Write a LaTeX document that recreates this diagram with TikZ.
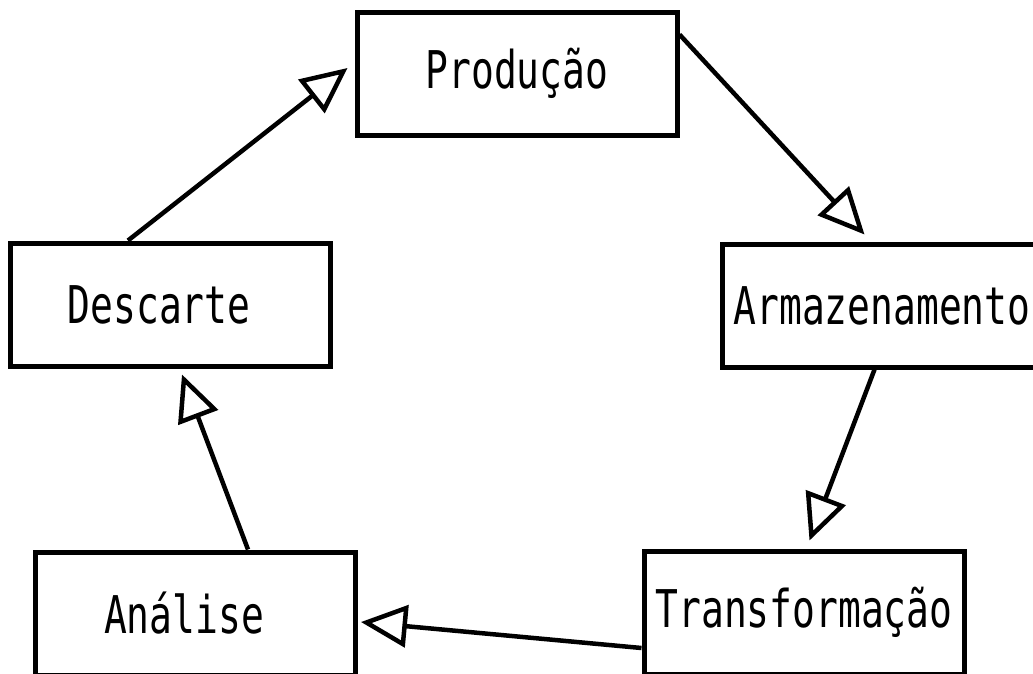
\documentclass[tikz,border=0pt]{standalone}
\usepackage{fontspec}
\newfontfamily\boxfont{DejaVu Sans Mono}[FakeStretch=0.73]
\usetikzlibrary{arrows.meta}
\begin{document}
\begin{tikzpicture}[x=1pt,y=-1pt,
  etapa/.style={draw,line width=5pt,minimum width=320pt,minimum height=123pt,inner sep=0pt,
    font=\boxfont\fontsize{52}{58}\selectfont},
  seta/.style={line width=4.5pt,-{Triangle[open,length=46pt,width=42pt]}}]
 \useasboundingbox (0,0) rectangle (1033,673);
 \node[etapa] (prod) at (517,73.5) {Produção};
 \node[etapa] (arm) at (882,305.5) {Armazenamento};
 \node[etapa] (trans) at (804,612.5) {Transformação};
 \node[etapa] (ana) at (195.5,613.5) {Análise\hphantom{x}};
 \node[etapa] (desc) at (170.5,304.5) {Descarte\hphantom{x}};
 \draw[seta] ([yshift=-25pt]prod.north east) -- ([xshift=145pt,yshift=7pt]arm.north west);
 \draw[seta] ([xshift=155pt]arm.south west) -- ([xshift=168pt,yshift=8pt]trans.north west);
 \draw[seta] ([yshift=-35.5pt]trans.west) -- ([xshift=3pt,yshift=-8.5pt]ana.east);
 \draw[seta] ([xshift=52.5pt]ana.north) -- ([xshift=11.5pt,yshift=-6pt]desc.south);
 \draw[seta] ([xshift=-42.5pt]desc.north) -- ([xshift=-7pt,yshift=5.5pt]prod.west);
\end{tikzpicture}
\end{document}
